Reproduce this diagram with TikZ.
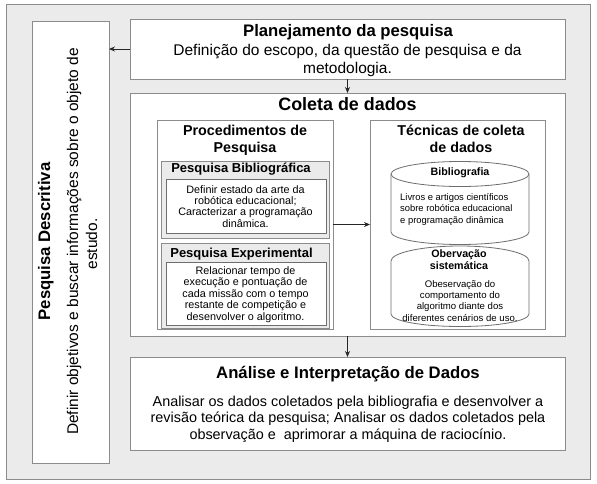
\documentclass[tikz,border=0pt]{standalone}
\usepackage{fontspec}
\setmainfont{Liberation Sans}
\usetikzlibrary{arrows.meta}
\definecolor{bgfill}{HTML}{EBEBEB}
\definecolor{bd}{HTML}{8C8C8C}
\definecolor{bdin}{HTML}{6E6E6E}
\newcommand{\fs}[2]{\fontsize{#1}{#2}\selectfont}
\newcommand{\mytabc}[1]{\begin{tabular}[t]{@{}c@{}}#1\end{tabular}}
\newcommand{\mytabl}[1]{\begin{tabular}[t]{@{}l@{}}#1\end{tabular}}
\tikzset{
  box/.style={draw=bd, line width=1pt, fill=white, inner sep=0, outer sep=0},
  framebox/.style={draw=bd, line width=1pt, fill=bgfill, inner sep=0, outer sep=0},
  graybox/.style={draw=bd, line width=1pt, fill=bgfill, inner sep=0, outer sep=0},
  innerbox/.style={draw=bdin, line width=0.8pt, fill=white, inner sep=0, outer sep=0},
  txt/.style={inner sep=0, anchor=base},
  arr/.style={draw=black!85, line width=0.9pt, -{Stealth[length=6pt,width=5pt]}},
  cyl/.style={draw=bdin, line width=0.8pt, fill=white}
}
\begin{document}
\begin{tikzpicture}[x=1pt,y=-1pt]
\fill[white] (0,0) rectangle (597,483);
\useasboundingbox (0,0) rectangle (597,483);

% frame and boxes
\node[framebox, minimum width=584pt, minimum height=475pt] (frame) at (298,241.5) {};
\node[box, minimum width=77pt, minimum height=442pt] (desc) at (70.5,242) {};
\node[box, minimum width=435pt, minimum height=60pt] (plan) at (347.5,49) {};
\node[box, minimum width=435pt, minimum height=243pt] (coleta) at (347.5,214.5) {};
\node[box, minimum width=435pt, minimum height=93pt] (analise) at (347.5,403.5) {};
\node[box, minimum width=176pt, minimum height=209pt] (proc) at (245,224.5) {};
\node[box, minimum width=175pt, minimum height=209pt] (tec) at (457.5,224.5) {};
\node[graybox, minimum width=168pt, minimum height=77pt] (bibbox) at (245,199.5) {};
\node[innerbox, minimum width=160pt, minimum height=54pt] (bibin) at (246,206) {};
\node[graybox, minimum width=168pt, minimum height=85pt] (expbox) at (245,285.5) {};
\node[innerbox, minimum width=160pt, minimum height=63pt] (expin) at (246,293.5) {};

% cylinders
\draw[cyl] (391,174) arc[start angle=180,end angle=0,x radius=69pt,y radius=12.5pt]
  -- (529,232) arc[start angle=0,end angle=-180,x radius=69pt,y radius=12.5pt] -- cycle;
\draw[cyl, fill=none] (391,174) arc[start angle=180,end angle=360,x radius=69pt,y radius=12.5pt];
\draw[cyl] (391,261) arc[start angle=180,end angle=0,x radius=69pt,y radius=15pt]
  -- (529,314) arc[start angle=0,end angle=-180,x radius=69pt,y radius=12.5pt] -- cycle;

% arrows
\draw[arr] (plan.west) -- (plan.west -| desc.east);
\draw[arr] (plan.south) -- (coleta.north);
\draw[arr] (proc.east) -- (tec.west);
\draw[arr] (coleta.south) -- (analise.north);

% texts
\node[txt, rotate=90] (desct) at (50,241.5) {\fs{16.7}{19}\bfseries Pesquisa Descritiva};
\node[txt, rotate=90] (descb1) at (78,241.5) {\fs{15.5}{19}Definir objetivos e buscar informações sobre o objeto de};
\node[txt, rotate=90] (descb2) at (97,244) {\fs{15.5}{19}estudo.};

\node[txt] (plant) at (348,36) {\fs{16.7}{18.5}\bfseries Planejamento da pesquisa};
\node[txt] (planb) at (347.5,55) {\fs{15.5}{18.5}\mytabc{Definição do escopo, da questão de pesquisa e da\\metodologia.}};

\node[txt] (coletat) at (347.5,110) {\fs{17.9}{20}\bfseries Coleta de dados};

\node[txt] (proct) at (245,135) {\fs{14.3}{17}\bfseries\mytabc{Procedimentos de\\Pesquisa}};
\node[txt] (tect) at (461,135) {\fs{14.3}{17}\bfseries\mytabc{Técnicas de coleta\\de dados}};

\node[txt] (bibt) at (241,172) {\fs{13}{15}\bfseries Pesquisa Bibliográfica};
\node[txt] (bibb) at (245.5,193) {\fs{10.8}{11.4}\mytabc{Definir estado da arte da\\robótica educacional;\\Caracterizar a programação\\dinâmica.}};

\node[txt] (expt) at (241.5,257) {\fs{13}{15}\bfseries Pesquisa Experimental};
\node[txt] (expb) at (245.5,274) {\fs{10.8}{11.5}\mytabc{Relacionar tempo de\\execução e pontuação de\\cada missão com o tempo\\restante de competição e\\desenvolver o algoritmo.}};

\node[txt] (cyl1t) at (460,175) {\fs{10.7}{12.5}\bfseries Bibliografia};
\node[txt, anchor=base west] (cyl1b) at (400,200) {\fs{9.4}{11.5}\mytabl{Livros e artigos científicos\\sobre robótica educacional\\e programação dinâmica}};

\node[txt] (cyl2t) at (459,257) {\fs{10.7}{12.5}\bfseries\mytabc{Obervação\\sistemática}};
\node[txt] (cyl2b) at (460,287) {\fs{9.6}{11.4}\mytabc{Obeservação do\\comportamento do\\algoritmo diante dos\\diferentes cenários de uso.}};

\node[txt] (anat) at (348,378) {\fs{16.7}{18.5}\bfseries Análise e Interpretação de Dados};
\node[txt] (anab) at (348,406) {\fs{14.4}{16.5}\mytabc{Analisar os dados coletados pela bibliografia e desenvolver a\\revisão teórica da pesquisa; Analisar os dados coletados pela\\observação e~ aprimorar a máquina de raciocínio.}};
\end{tikzpicture}
\end{document}
